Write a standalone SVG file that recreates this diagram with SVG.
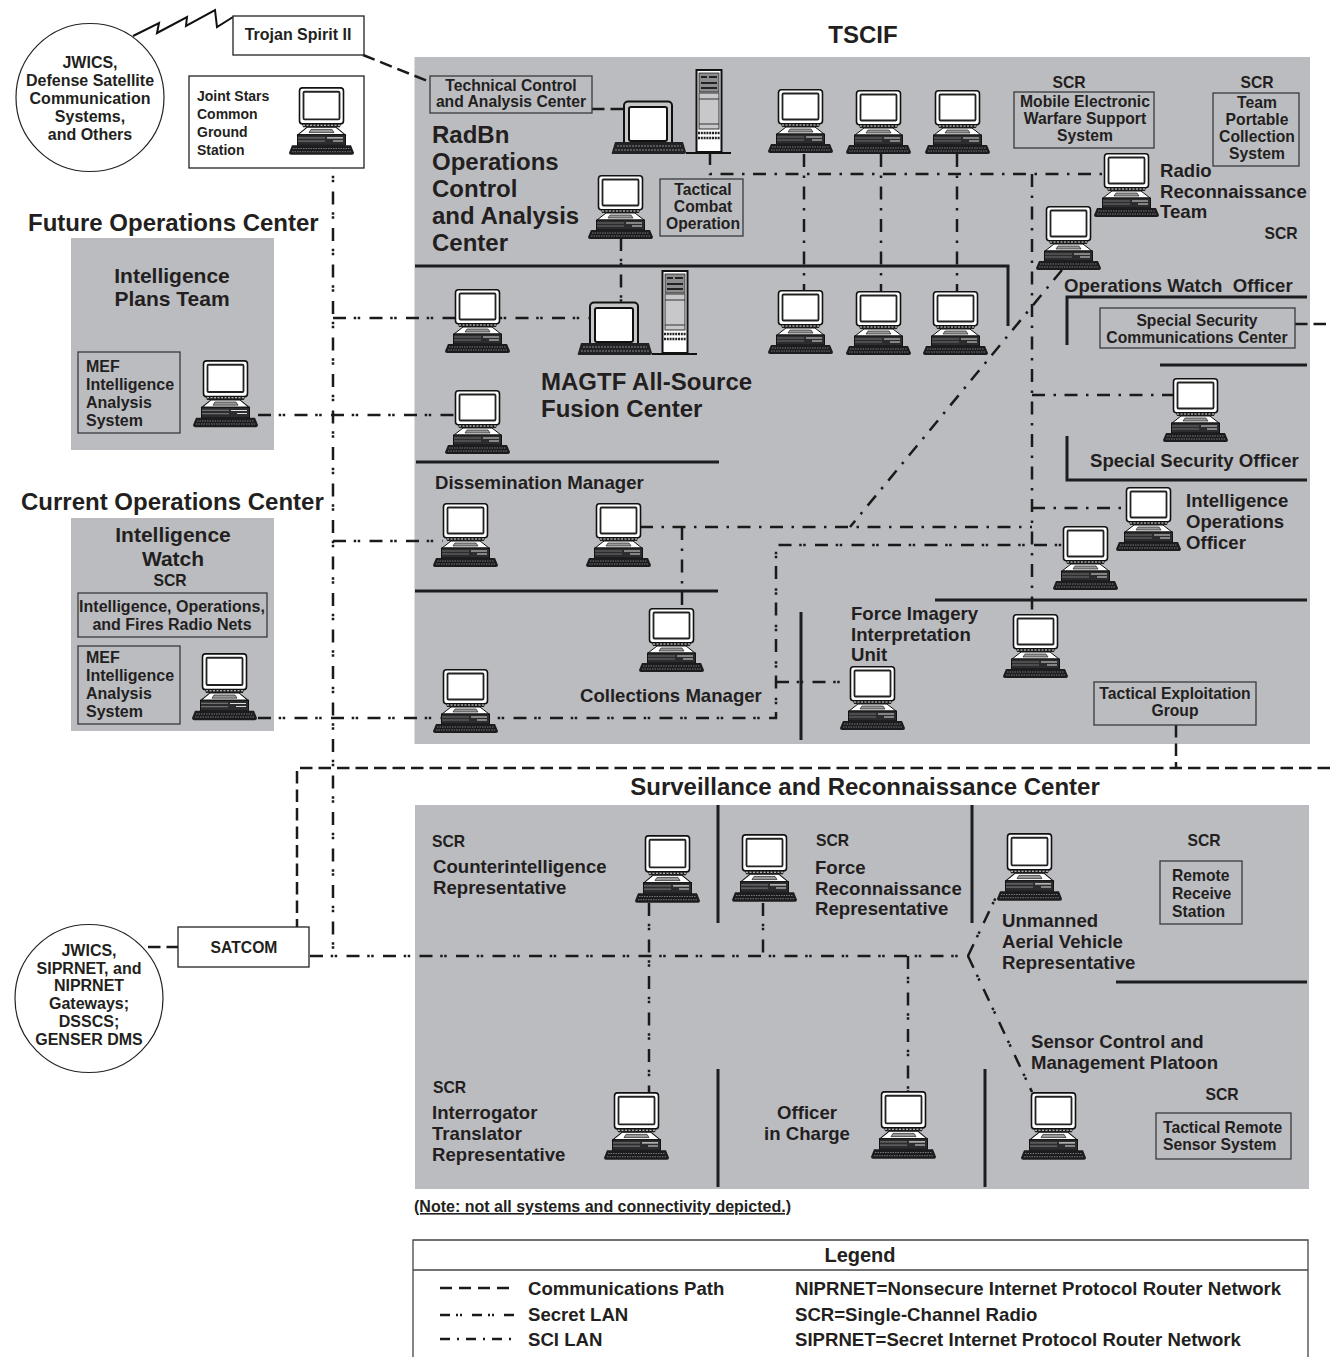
<svg xmlns="http://www.w3.org/2000/svg" width="1330" height="1357" viewBox="0 0 1330 1357">
<style>
text{font-family:"Liberation Sans",Arial,sans-serif;font-weight:700;fill:#231f20}
.m{text-anchor:middle}
.s14{font-size:14px}.s15{font-size:15.7px}.s16{font-size:16px}.s18{font-size:18.6px}.s21{font-size:21px}.s24{font-size:24px}
.panel{fill:#bbbcc0}
.wall{fill:none;stroke:#1d1d1f;stroke-width:3}
.box{fill:none;stroke:#3a3a3c;stroke-width:1.3}
.wbox{fill:#fff;stroke:#222;stroke-width:1.3}
.comm,.secret,.sci{fill:none;stroke:#1a1a1a;stroke-width:2.5}
.comm{stroke-dasharray:12.5 6}
.secret{stroke-dasharray:13 7.7 2.5 1.5 2.5 9.3}
.sci{stroke-dasharray:13 8.5 2.5 8.5}
.lcomm{stroke-dasharray:12 7}
.lsecret{stroke-dasharray:10 6 2 2 2 10}
.lsci{stroke-dasharray:10 7 2 7}
</style>
<defs>
<g id="pc">
<rect x="10.5" y="0.8" width="44" height="34" rx="3" fill="#fff" stroke="#111" stroke-width="1.6"/>
<rect x="14.5" y="4.5" width="36" height="26" rx="1" fill="#fff" stroke="#222" stroke-width="1.8"/>
<path d="M13 35H52L51 38H14Z" fill="#222"/>
<path d="M14 36H51" stroke="#ddd" stroke-width="1" stroke-dasharray="2 1.5" fill="none"/>
<path d="M18 38H47L56 45H9Z" fill="#fff" stroke="#111" stroke-width="1"/>
<path d="M22 40H43L45 43H20Z" fill="#999" stroke="#222" stroke-width=".7"/>
<rect x="8.500" y="45" width="48" height="10" fill="#2c2c2e" stroke="#111" stroke-width="1"/>
<path d="M9 48H36M9 51H36" stroke="#6f6f72" stroke-width="1.2" fill="none"/>
<path d="M38 48H54M44 51H54" stroke="#ddd" stroke-width="1" fill="none"/>
<path d="M3 55H62L65 62Q65 64 63 64H2Q0 64 0 62Z" fill="#1c1c1e"/>
<path d="M4 58H61M3 61H62" stroke="#77777a" stroke-width="1" stroke-dasharray="1.5 1" fill="none"/>
</g>
<g id="pcw">
<rect x="13" y="32.500" width="48" height="47" rx="4" fill="#c6c6c8" stroke="#111" stroke-width="2"/>
<rect x="18" y="38" width="38" height="34" rx="2" fill="#fff" stroke="#111" stroke-width="2"/>
<path d="M4 73H72L75 83Q75 85 73 85H2Q0 85 1 83Z" fill="#222224"/>
<path d="M6 77H70M4 81H72" stroke="#88888b" stroke-width="1.200" stroke-dasharray="2 1" fill="none"/>
<rect x="85.500" y="1" width="25" height="82" fill="#fff" stroke="#111" stroke-width="2"/>
<rect x="88" y="4" width="20" height="19" fill="#8d8d90" stroke="#222" stroke-width=".8"/>
<path d="M90 8H96M98 8H106M90 14H106M90 19H106" stroke="#222" stroke-width="2" fill="none"/>
<rect x="88" y="24" width="20" height="36" fill="#c8c8ca" stroke="#333" stroke-width="1"/>
<path d="M88 30H108M88 55H108" stroke="#333" stroke-width="1" fill="none"/>
<path d="M87 64H109M87 69H109" stroke="#222" stroke-width="2.400" stroke-dasharray="2 .8" fill="none"/>
<path d="M75 84H120" stroke="#111" stroke-width="2" fill="none"/>
</g>
</defs>

<g id="panels">
<rect class="panel" x="414.500" y="57" width="895.500" height="687"/>
<rect class="panel" x="71" y="238" width="203" height="212"/>
<rect class="panel" x="71" y="518" width="203" height="213"/>
<rect class="panel" x="415" y="805" width="894" height="384"/>
</g>

<g id="walls">
<path class="wall" d="M415 266H1008V326"/>
<path class="wall" d="M416 462H719M415 591H718"/>
<path class="wall" d="M1307 297H1067V345M1160 365H1307"/>
<path class="wall" d="M1067 436V480H1307"/>
<path class="wall" d="M935 600H1307M801 612V740"/>
<path class="wall" d="M718 805V923M972 805V923M1116 982H1307M718 1069V1187M985 1069V1187"/>
</g>

<g id="connectors">
<path d="M133 36L159 23L157 33L187 17L186 26L215 10L217 27L233 17" fill="none" stroke="#111" stroke-width="2"/>
<path class="comm" d="M363 55L430 82"/>
<path class="comm" d="M592 109H625"/>
<path class="comm" d="M1330 768H297V927"/>
<path class="comm" d="M1176 725V768"/>
<path class="comm" d="M148 947H178"/>
<path class="comm" d="M1295 324H1330"/>
<path class="secret" d="M776 682H841"/>
<path class="secret" d="M333 155V956"/>
<path class="secret" d="M310 956H968"/>
<path class="secret" d="M333 318H591"/>
<path class="secret" d="M258 415H455"/>
<path class="secret" d="M333 541H443"/>
<path class="secret" d="M258 718H776V545H1062"/>
<path class="secret" d="M621 238V302"/>
<path class="secret" d="M649 903V1092"/>
<path class="secret" d="M763 903V956"/>
<path class="secret" d="M908 956V1091"/>
<path class="secret" d="M968 956L996 897"/>
<path class="secret" d="M968 956L1032 1092"/>
<path class="sci" d="M710 152V174H1105"/>
<path class="sci" d="M804 154V291"/>
<path class="sci" d="M881 154V291"/>
<path class="sci" d="M957 154V291"/>
<path class="sci" d="M1032 174V614"/>
<path class="sci" d="M1032 395H1173"/>
<path class="sci" d="M1032 508H1128"/>
<path class="sci" d="M640 527H1032"/>
<path class="sci" d="M682 527V608"/>
<path class="sci" d="M1062 270L850 527"/>
</g>

<g id="titles">
<text class="s24 m" x="863" y="43">TSCIF</text>
<text class="s24" x="28" y="231">Future Operations Center</text>
<text class="s24" x="21" y="510">Current Operations Center</text>
<text class="s24 m" x="865" y="795">Surveillance and Reconnaissance Center</text>
</g>

<g id="n-jwics-circle"><circle cx="90" cy="97.500" r="74" fill="#fff" stroke="#222" stroke-width="1.200"/>
<text class="s16 m" x="90" y="68">JWICS,</text><text class="s16 m" x="90" y="86">Defense Satellite</text><text class="s16 m" x="90" y="104">Communication</text><text class="s16 m" x="90" y="122">Systems,</text><text class="s16 m" x="90" y="140">and Others</text></g>
<g id="n-trojan"><rect class="wbox" x="233" y="16" width="131" height="39"/><text class="s16 m" x="298" y="40">Trojan Spirit II</text></g>
<g id="n-joint"><rect class="wbox" x="189" y="76" width="175" height="92"/>
<text class="s14" x="197" y="101">Joint Stars</text><text class="s14" x="197" y="119">Common</text><text class="s14" x="197" y="137">Ground</text><text class="s14" x="197" y="155">Station</text>
<use href="#pc" transform="translate(289,87) scale(1,1.06)"/></g>

<g id="n-future"><text class="s21 m" x="172" y="283">Intelligence</text><text class="s21 m" x="172" y="306">Plans Team</text>
<rect class="box" x="78" y="352" width="102" height="81"/>
<text class="s16" x="86" y="372">MEF</text><text class="s16" x="86" y="390">Intelligence</text><text class="s16" x="86" y="408">Analysis</text><text class="s16" x="86" y="426">System</text>
<use href="#pc" transform="translate(193,360) scale(1,1.05)"/></g>

<g id="n-current"><text class="s21 m" x="173" y="542">Intelligence</text><text class="s21 m" x="173" y="566">Watch</text><text class="s15 m" x="170" y="586">SCR</text>
<rect class="box" x="78" y="593" width="189" height="44"/>
<text class="s16 m" x="172" y="612">Intelligence, Operations,</text><text class="s16 m" x="172" y="630">and Fires Radio Nets</text>
<rect class="box" x="78" y="646" width="102" height="78"/>
<text class="s16" x="86" y="663">MEF</text><text class="s16" x="86" y="681">Intelligence</text><text class="s16" x="86" y="699">Analysis</text><text class="s16" x="86" y="717">System</text>
<use href="#pc" transform="translate(192,653) scale(1,1.05)"/></g>

<g id="n-tech"><rect class="box" x="430" y="76" width="162" height="37"/><text class="s15 m" x="511" y="91">Technical Control</text><text class="s15 m" x="511" y="107">and Analysis Center</text></g>
<g id="n-radbn"><text class="s24" x="432" y="143">RadBn</text><text class="s24" x="432" y="170">Operations</text><text class="s24" x="432" y="197">Control</text><text class="s24" x="432" y="224">and Analysis</text><text class="s24" x="432" y="251">Center</text>
<use href="#pcw" x="611" y="69"/><use href="#pc" x="588" y="175"/></g>
<g id="n-tco"><rect class="box" x="660" y="179" width="83" height="57"/><text class="s15 m" x="703" y="195">Tactical</text><text class="s15 m" x="703" y="212">Combat</text><text class="s15 m" x="703" y="229">Operation</text></g>
<g id="n-pcs-top"><use href="#pc" x="768" y="89"/><use href="#pc" x="846" y="90"/><use href="#pc" x="925" y="90"/><use href="#pc" x="768" y="290"/><use href="#pc" x="846" y="291"/><use href="#pc" x="923" y="291"/></g>
<g id="n-mews"><text class="s15 m" x="1069" y="88">SCR</text><rect class="box" x="1014" y="92" width="140" height="56"/><text class="s15 m" x="1085" y="107">Mobile Electronic</text><text class="s15 m" x="1085" y="124">Warfare Support</text><text class="s15 m" x="1085" y="141">System</text></g>
<g id="n-tpcs"><text class="s15 m" x="1257" y="88">SCR</text><rect class="box" x="1213" y="93" width="86" height="73"/><text class="s15 m" x="1257" y="108">Team</text><text class="s15 m" x="1257" y="125">Portable</text><text class="s15 m" x="1257" y="142">Collection</text><text class="s15 m" x="1257" y="159">System</text></g>
<g id="n-rrt"><use href="#pc" x="1094" y="153"/><text class="s18" x="1160" y="177">Radio</text><text class="s18" x="1160" y="198">Reconnaissance</text><text class="s18" x="1160" y="218">Team</text><text class="s15 m" x="1281" y="239">SCR</text></g>
<g id="n-owo"><use href="#pc" x="1036" y="206"/><text class="s18" x="1064" y="292" xml:space="preserve">Operations Watch  Officer</text></g>
<g id="n-sscc"><rect class="box" x="1100" y="308" width="195" height="40"/><text class="s15 m" x="1197" y="326">Special Security</text><text class="s15 m" x="1197" y="343">Communications Center</text></g>
<g id="n-sso"><use href="#pc" x="1163" y="378"/><text class="s18" x="1090" y="467">Special Security Officer</text></g>
<g id="n-magtf"><use href="#pc" x="445" y="289"/><use href="#pcw" x="577" y="270"/><use href="#pc" x="445" y="390"/><text class="s24" x="541" y="390">MAGTF All-Source</text><text class="s24" x="541" y="417">Fusion Center</text></g>
<g id="n-dissem"><text class="s18" x="435" y="489">Dissemination Manager</text><use href="#pc" x="433" y="503"/><use href="#pc" x="586" y="503"/></g>
<g id="n-collect"><use href="#pc" x="639" y="608"/><text class="s18" x="580" y="702">Collections Manager</text><use href="#pc" x="433" y="669"/></g>
<g id="n-ioo"><use href="#pc" x="1116" y="487"/><text class="s18" x="1186" y="507">Intelligence</text><text class="s18" x="1186" y="528">Operations</text><text class="s18" x="1186" y="549">Officer</text><use href="#pc" x="1053" y="526"/></g>
<g id="n-fiiu"><text class="s18" x="851" y="620">Force Imagery</text><text class="s18" x="851" y="641">Interpretation</text><text class="s18" x="851" y="661">Unit</text><use href="#pc" x="840" y="666"/><use href="#pc" x="1003" y="614"/></g>
<g id="n-teg"><rect class="box" x="1094" y="682" width="162" height="43"/><text class="s15 m" x="1175" y="699">Tactical Exploitation</text><text class="s15 m" x="1175" y="716">Group</text></g>

<g id="n-satcom"><rect class="wbox" x="178" y="927" width="131" height="40"/><text class="s15 m" x="244" y="953">SATCOM</text></g>
<g id="n-gateways"><circle cx="89" cy="998.500" r="74" fill="#fff" stroke="#222" stroke-width="1.200"/>
<text class="s16 m" x="89" y="956">JWICS,</text><text class="s16 m" x="89" y="974">SIPRNET, and</text><text class="s16 m" x="89" y="991">NIPRNET</text><text class="s16 m" x="89" y="1009">Gateways;</text><text class="s16 m" x="89" y="1027">DSSCS;</text><text class="s16 m" x="89" y="1045">GENSER DMS</text></g>

<g id="n-ci"><text class="s15" x="432" y="847">SCR</text><text class="s18" x="433" y="873">Counterintelligence</text><text class="s18" x="433" y="894">Representative</text><use href="#pc" transform="translate(635,835) scale(1,1.06)"/></g>
<g id="n-force"><use href="#pc" transform="translate(732,834) scale(1,1.06)"/><text class="s15" x="816" y="846">SCR</text><text class="s18" x="815" y="874">Force</text><text class="s18" x="815" y="895">Reconnaissance</text><text class="s18" x="815" y="915">Representative</text></g>
<g id="n-uav"><use href="#pc" transform="translate(997,833) scale(1,1.06)"/><text class="s18" x="1002" y="927">Unmanned</text><text class="s18" x="1002" y="948">Aerial Vehicle</text><text class="s18" x="1002" y="969">Representative</text></g>
<g id="n-rrs"><text class="s15 m" x="1204" y="846">SCR</text><rect class="box" x="1160" y="861" width="82" height="63"/><text class="s15" x="1172" y="881">Remote</text><text class="s15" x="1172" y="899">Receive</text><text class="s15" x="1172" y="917">Station</text></g>
<g id="n-scamp"><text class="s18" x="1031" y="1048">Sensor Control and</text><text class="s18" x="1031" y="1069">Management Platoon</text><use href="#pc" transform="translate(1021,1092) scale(1,1.06)"/></g>
<g id="n-trss"><text class="s15 m" x="1222" y="1100">SCR</text><rect class="box" x="1156" y="1113" width="135" height="46"/><text class="s15" x="1163" y="1133">Tactical Remote</text><text class="s15" x="1163" y="1150">Sensor System</text></g>
<g id="n-itr"><text class="s15" x="433" y="1093">SCR</text><text class="s18" x="432" y="1119">Interrogator</text><text class="s18" x="432" y="1140">Translator</text><text class="s18" x="432" y="1161">Representative</text><use href="#pc" transform="translate(604,1092) scale(1,1.06)"/></g>
<g id="n-oic"><text class="s18 m" x="807" y="1119">Officer</text><text class="s18 m" x="807" y="1140">in Charge</text><use href="#pc" transform="translate(871,1091) scale(1,1.06)"/></g>

<text class="s16" x="414" y="1212" text-decoration="underline">(Note: not all systems and connectivity depicted.)</text>

<g id="legend">
<path d="M413 1357V1240H1308V1357M413 1270H1308" fill="none" stroke="#444" stroke-width="1.300"/>
<text class="m" font-size="20" x="860" y="1262">Legend</text>
<path class="comm lcomm" d="M440 1288H514"/><path class="secret lsecret" d="M440 1315H514"/><path class="sci lsci" d="M440 1339H514"/>
<text class="s18" x="528" y="1295">Communications Path</text><text class="s18" x="528" y="1321">Secret LAN</text><text class="s18" x="528" y="1346">SCI LAN</text>
<text class="s18" x="795" y="1295">NIPRNET=Nonsecure Internet Protocol Router Network</text><text class="s18" x="795" y="1321">SCR=Single-Channel Radio</text><text class="s18" x="795" y="1346">SIPRNET=Secret Internet Protocol Router Network</text>
</g>
</svg>
